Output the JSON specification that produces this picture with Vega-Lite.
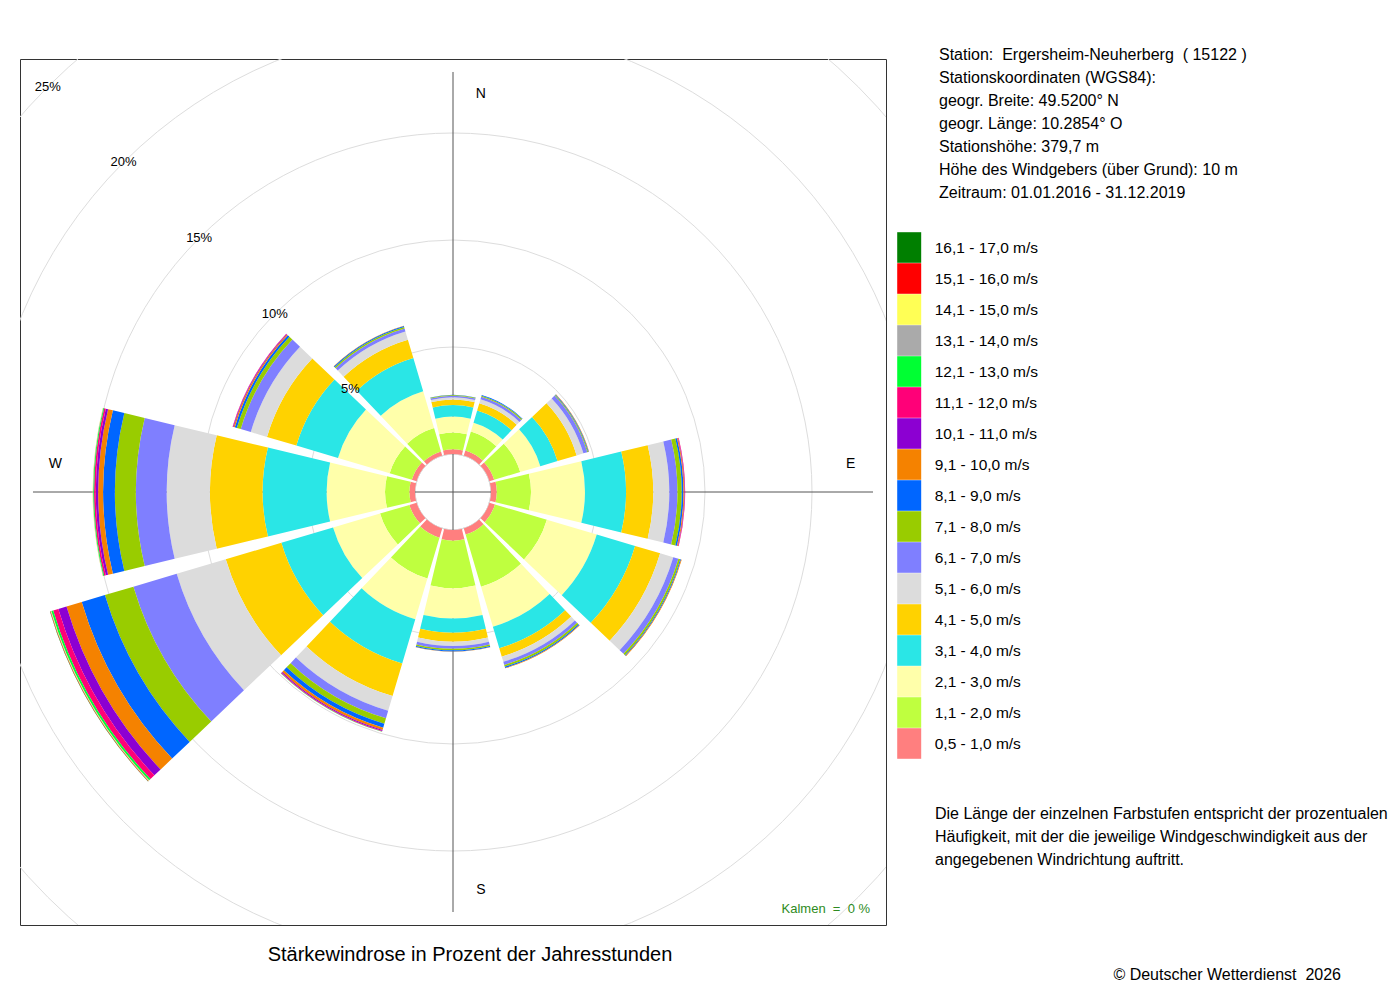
{
  "$schema": "https://vega.github.io/schema/vega-lite/v6.json",
  "description": "Staerkewindrose Ergersheim-Neuherberg, 12 Sektoren, Windgeschwindigkeitsklassen gestapelt",
  "padding": {"left": 19, "top": 47, "right": 10, "bottom": 10},
  "background": "white",
  "spacing": 10,
  "config": {"font": "Liberation Sans", "view": {"stroke": null}},
  "datasets": {
    "rose": [
      {"dir": 0, "cls": 1, "pct": 0.22}, {"dir": 0, "cls": 2, "pct": 0.78}, {"dir": 0, "cls": 3, "pct": 0.75},
      {"dir": 0, "cls": 4, "pct": 0.54}, {"dir": 0, "cls": 5, "pct": 0.26}, {"dir": 0, "cls": 6, "pct": 0.10},
      {"dir": 0, "cls": 7, "pct": 0.07}, {"dir": 0, "cls": 8, "pct": 0.03}, {"dir": 0, "cls": 9, "pct": 0.02},

      {"dir": 30, "cls": 1, "pct": 0.25}, {"dir": 30, "cls": 2, "pct": 0.92}, {"dir": 30, "cls": 3, "pct": 0.43},
      {"dir": 30, "cls": 4, "pct": 0.60}, {"dir": 30, "cls": 5, "pct": 0.35}, {"dir": 30, "cls": 6, "pct": 0.19},
      {"dir": 30, "cls": 7, "pct": 0.13}, {"dir": 30, "cls": 8, "pct": 0.05}, {"dir": 30, "cls": 9, "pct": 0.03},

      {"dir": 60, "cls": 1, "pct": 0.23}, {"dir": 60, "cls": 2, "pct": 1.27}, {"dir": 60, "cls": 3, "pct": 0.98},
      {"dir": 60, "cls": 4, "pct": 0.84}, {"dir": 60, "cls": 5, "pct": 0.93}, {"dir": 60, "cls": 6, "pct": 0.33},
      {"dir": 60, "cls": 7, "pct": 0.19}, {"dir": 60, "cls": 8, "pct": 0.04}, {"dir": 60, "cls": 9, "pct": 0.03},
      {"dir": 60, "cls": 10, "pct": 0.02},

      {"dir": 90, "cls": 1, "pct": 0.27}, {"dir": 90, "cls": 2, "pct": 1.60}, {"dir": 90, "cls": 3, "pct": 2.52},
      {"dir": 90, "cls": 4, "pct": 1.92}, {"dir": 90, "cls": 5, "pct": 1.27}, {"dir": 90, "cls": 6, "pct": 0.75},
      {"dir": 90, "cls": 7, "pct": 0.38}, {"dir": 90, "cls": 8, "pct": 0.20}, {"dir": 90, "cls": 9, "pct": 0.08},
      {"dir": 90, "cls": 10, "pct": 0.04}, {"dir": 90, "cls": 11, "pct": 0.02}, {"dir": 90, "cls": 12, "pct": 0.02},

      {"dir": 120, "cls": 1, "pct": 0.27}, {"dir": 120, "cls": 2, "pct": 2.53}, {"dir": 120, "cls": 3, "pct": 2.43},
      {"dir": 120, "cls": 4, "pct": 1.87}, {"dir": 120, "cls": 5, "pct": 1.22}, {"dir": 120, "cls": 6, "pct": 0.64},
      {"dir": 120, "cls": 7, "pct": 0.25}, {"dir": 120, "cls": 8, "pct": 0.09}, {"dir": 120, "cls": 9, "pct": 0.04},
      {"dir": 120, "cls": 10, "pct": 0.03},

      {"dir": 150, "cls": 1, "pct": 0.30}, {"dir": 150, "cls": 2, "pct": 2.54}, {"dir": 150, "cls": 3, "pct": 1.95},
      {"dir": 150, "cls": 4, "pct": 1.05}, {"dir": 150, "cls": 5, "pct": 0.41}, {"dir": 150, "cls": 6, "pct": 0.25},
      {"dir": 150, "cls": 7, "pct": 0.15}, {"dir": 150, "cls": 8, "pct": 0.09}, {"dir": 150, "cls": 9, "pct": 0.06},
      {"dir": 150, "cls": 10, "pct": 0.02},

      {"dir": 180, "cls": 1, "pct": 0.50}, {"dir": 180, "cls": 2, "pct": 2.22}, {"dir": 180, "cls": 3, "pct": 1.41},
      {"dir": 180, "cls": 4, "pct": 0.67}, {"dir": 180, "cls": 5, "pct": 0.42}, {"dir": 180, "cls": 6, "pct": 0.20},
      {"dir": 180, "cls": 7, "pct": 0.13}, {"dir": 180, "cls": 8, "pct": 0.07}, {"dir": 180, "cls": 9, "pct": 0.05},
      {"dir": 180, "cls": 10, "pct": 0.02},

      {"dir": 210, "cls": 1, "pct": 0.45}, {"dir": 210, "cls": 2, "pct": 1.99}, {"dir": 210, "cls": 3, "pct": 1.99},
      {"dir": 210, "cls": 4, "pct": 2.15}, {"dir": 210, "cls": 5, "pct": 1.59}, {"dir": 210, "cls": 6, "pct": 0.72},
      {"dir": 210, "cls": 7, "pct": 0.36}, {"dir": 210, "cls": 8, "pct": 0.27}, {"dir": 210, "cls": 9, "pct": 0.19},
      {"dir": 210, "cls": 10, "pct": 0.11}, {"dir": 210, "cls": 11, "pct": 0.05}, {"dir": 210, "cls": 12, "pct": 0.03},
      {"dir": 210, "cls": 13, "pct": 0.01},

      {"dir": 240, "cls": 1, "pct": 0.35}, {"dir": 240, "cls": 2, "pct": 1.43}, {"dir": 240, "cls": 3, "pct": 2.29},
      {"dir": 240, "cls": 4, "pct": 2.52}, {"dir": 240, "cls": 5, "pct": 2.71}, {"dir": 240, "cls": 6, "pct": 2.39},
      {"dir": 240, "cls": 7, "pct": 2.11}, {"dir": 240, "cls": 8, "pct": 1.39}, {"dir": 240, "cls": 9, "pct": 1.13},
      {"dir": 240, "cls": 10, "pct": 0.74}, {"dir": 240, "cls": 11, "pct": 0.40}, {"dir": 240, "cls": 12, "pct": 0.25},
      {"dir": 240, "cls": 13, "pct": 0.09}, {"dir": 240, "cls": 14, "pct": 0.02}, {"dir": 240, "cls": 15, "pct": 0.02},
      {"dir": 240, "cls": 16, "pct": 0.02}, {"dir": 240, "cls": 17, "pct": 0.01},

      {"dir": 270, "cls": 1, "pct": 0.26}, {"dir": 270, "cls": 2, "pct": 1.14}, {"dir": 270, "cls": 3, "pct": 2.73},
      {"dir": 270, "cls": 4, "pct": 2.99}, {"dir": 270, "cls": 5, "pct": 2.46}, {"dir": 270, "cls": 6, "pct": 2.02},
      {"dir": 270, "cls": 7, "pct": 1.44}, {"dir": 270, "cls": 8, "pct": 0.98}, {"dir": 270, "cls": 9, "pct": 0.55},
      {"dir": 270, "cls": 10, "pct": 0.23}, {"dir": 270, "cls": 11, "pct": 0.11}, {"dir": 270, "cls": 12, "pct": 0.08},
      {"dir": 270, "cls": 13, "pct": 0.04}, {"dir": 270, "cls": 14, "pct": 0.02}, {"dir": 270, "cls": 15, "pct": 0.01},

      {"dir": 300, "cls": 1, "pct": 0.23}, {"dir": 300, "cls": 2, "pct": 1.08}, {"dir": 300, "cls": 3, "pct": 2.52},
      {"dir": 300, "cls": 4, "pct": 2.03}, {"dir": 300, "cls": 5, "pct": 1.43}, {"dir": 300, "cls": 6, "pct": 0.79},
      {"dir": 300, "cls": 7, "pct": 0.49}, {"dir": 300, "cls": 8, "pct": 0.19}, {"dir": 300, "cls": 9, "pct": 0.10},
      {"dir": 300, "cls": 10, "pct": 0.06}, {"dir": 300, "cls": 11, "pct": 0.03}, {"dir": 300, "cls": 12, "pct": 0.02},

      {"dir": 330, "cls": 1, "pct": 0.20}, {"dir": 330, "cls": 2, "pct": 1.14}, {"dir": 330, "cls": 3, "pct": 1.79},
      {"dir": 330, "cls": 4, "pct": 1.62}, {"dir": 330, "cls": 5, "pct": 0.90}, {"dir": 330, "cls": 6, "pct": 0.40},
      {"dir": 330, "cls": 7, "pct": 0.14}, {"dir": 330, "cls": 8, "pct": 0.07}, {"dir": 330, "cls": 9, "pct": 0.05},
      {"dir": 330, "cls": 10, "pct": 0.02}
    ]
  },
  "hconcat": [
    {
      "width": 866,
      "height": 866,
      "view": {"stroke": "#333333", "strokeWidth": 1},
      "title": {
        "text": "Stärkewindrose in Prozent der Jahresstunden",
        "orient": "bottom",
        "offset": 20,
        "dx": 17,
        "fontSize": 20,
        "fontWeight": "normal",
        "color": "black"
      },
      "layer": [
        {
          "data": {"values": [
            {"ring": 5}, {"ring": 10}, {"ring": 15}, {"ring": 20}, {"ring": 25}
          ]},
          "mark": {"type": "arc", "filled": false, "stroke": "#dddddd", "strokeWidth": 1, "clip": true},
          "encoding": {
            "theta": {"datum": 0, "type": "quantitative", "stack": null, "scale": {"domain": [0, 360]}},
            "theta2": {"datum": 360},
            "radius": {"field": "ring", "type": "quantitative", "stack": null, "scale": {"type": "linear", "domain": [0, 25], "range": [38, 573]}}
          }
        },
        {
          "data": {"values": [{}]},
          "mark": {"type": "rule", "color": "#555555", "strokeWidth": 1},
          "encoding": {
            "x": {"datum": 0, "type": "quantitative", "scale": {"domain": [-1, 1], "nice": false}, "axis": null},
            "y": {"datum": -0.97, "type": "quantitative", "scale": {"domain": [-1, 1], "nice": false}, "axis": null},
            "y2": {"datum": 0.97}
          }
        },
        {
          "data": {"values": [{}]},
          "mark": {"type": "rule", "color": "#555555", "strokeWidth": 1},
          "encoding": {
            "y": {"datum": 0, "type": "quantitative"},
            "x": {"datum": -0.97, "type": "quantitative"},
            "x2": {"datum": 0.97}
          }
        },
        {
          "data": {"name": "rose"},
          "transform": [
            {"lookup": "cls", "from": {"data": {"values": [
              {"cls": 1, "speed": "0,5 - 1,0 m/s"}, {"cls": 2, "speed": "1,1 - 2,0 m/s"},
              {"cls": 3, "speed": "2,1 - 3,0 m/s"}, {"cls": 4, "speed": "3,1 - 4,0 m/s"},
              {"cls": 5, "speed": "4,1 - 5,0 m/s"}, {"cls": 6, "speed": "5,1 - 6,0 m/s"},
              {"cls": 7, "speed": "6,1 - 7,0 m/s"}, {"cls": 8, "speed": "7,1 - 8,0 m/s"},
              {"cls": 9, "speed": "8,1 - 9,0 m/s"}, {"cls": 10, "speed": "9,1 - 10,0 m/s"},
              {"cls": 11, "speed": "10,1 - 11,0 m/s"}, {"cls": 12, "speed": "11,1 - 12,0 m/s"},
              {"cls": 13, "speed": "12,1 - 13,0 m/s"}, {"cls": 14, "speed": "13,1 - 14,0 m/s"},
              {"cls": 15, "speed": "14,1 - 15,0 m/s"}, {"cls": 16, "speed": "15,1 - 16,0 m/s"},
              {"cls": 17, "speed": "16,1 - 17,0 m/s"}
            ]}, "key": "cls", "fields": ["speed"]}},
            {"stack": "pct", "groupby": ["dir"], "sort": [{"field": "cls", "order": "ascending"}], "as": ["r0", "r1"]},
            {"calculate": "datum.dir - 13.5", "as": "t0"},
            {"calculate": "datum.dir + 13.5", "as": "t1"}
          ],
          "mark": {"type": "arc"},
          "encoding": {
            "theta": {"field": "t0", "type": "quantitative", "stack": null},
            "theta2": {"field": "t1"},
            "radius": {"field": "r0", "type": "quantitative", "stack": null},
            "radius2": {"field": "r1"},
            "color": {
              "field": "speed",
              "type": "nominal",
              "scale": {
                "domain": [
                  "0,5 - 1,0 m/s", "1,1 - 2,0 m/s", "2,1 - 3,0 m/s", "3,1 - 4,0 m/s", "4,1 - 5,0 m/s",
                  "5,1 - 6,0 m/s", "6,1 - 7,0 m/s", "7,1 - 8,0 m/s", "8,1 - 9,0 m/s", "9,1 - 10,0 m/s",
                  "10,1 - 11,0 m/s", "11,1 - 12,0 m/s", "12,1 - 13,0 m/s", "13,1 - 14,0 m/s",
                  "14,1 - 15,0 m/s", "15,1 - 16,0 m/s", "16,1 - 17,0 m/s"
                ],
                "range": [
                  "#ff7f7f", "#bfff3f", "#ffffaa", "#2ae6e6", "#ffd200", "#dcdcdc", "#7f7fff",
                  "#99cc00", "#0066ff", "#f58200", "#8c00d2", "#ff0078", "#00ff33", "#aaaaaa",
                  "#ffff55", "#ff0000", "#007f00"
                ]
              },
              "legend": {
                "orient": "none",
                "legendX": 873.7,
                "legendY": 173,
                "title": null,
                "padding": 0,
                "values": [
                  "16,1 - 17,0 m/s", "15,1 - 16,0 m/s", "14,1 - 15,0 m/s", "13,1 - 14,0 m/s",
                  "12,1 - 13,0 m/s", "11,1 - 12,0 m/s", "10,1 - 11,0 m/s", "9,1 - 10,0 m/s",
                  "8,1 - 9,0 m/s", "7,1 - 8,0 m/s", "6,1 - 7,0 m/s", "5,1 - 6,0 m/s",
                  "4,1 - 5,0 m/s", "3,1 - 4,0 m/s", "2,1 - 3,0 m/s", "1,1 - 2,0 m/s", "0,5 - 1,0 m/s"
                ],
                "symbolType": "M-0.784,-1H0.784V1H-0.784Z",
                "symbolSize": 936,
                "symbolStrokeWidth": 0,
                "symbolOpacity": 1,
                "symbolLimit": 0,
                "rowPadding": 0,
                "labelFontSize": 15.5,
                "labelOffset": 10,
                "labelColor": "black",
                "labelFont": "Liberation Sans"
              }
            }
          }
        },
        {
          "data": {"values": [
            {"ring": 5, "label": "5%"}, {"ring": 10, "label": "10%"}, {"ring": 15, "label": "15%"},
            {"ring": 20, "label": "20%"}, {"ring": 25, "label": "25%"}
          ]},
          "mark": {"type": "text", "fontSize": 13, "align": "center", "baseline": "middle", "color": "black"},
          "encoding": {
            "theta": {"datum": 315, "type": "quantitative", "stack": null},
            "radius": {"field": "ring", "type": "quantitative"},
            "text": {"field": "label"}
          }
        },
        {
          "data": {"values": [
            {"label": "N", "ang": 4}, {"label": "E", "ang": 86},
            {"label": "S", "ang": 176}, {"label": "W", "ang": 274}
          ]},
          "mark": {"type": "text", "fontSize": 14, "align": "center", "baseline": "middle", "color": "black"},
          "encoding": {
            "theta": {"field": "ang", "type": "quantitative", "stack": null},
            "radius": {"datum": 16.85, "type": "quantitative"},
            "text": {"field": "label"}
          }
        },
        {
          "data": {"values": [{"text": "Kalmen \u00a0= \u00a00 %"}]},
          "mark": {"type": "text", "fontSize": 13, "align": "center", "baseline": "middle", "color": "#2e8b22"},
          "encoding": {
            "x": {"datum": 0.861, "type": "quantitative"},
            "y": {"datum": -0.963, "type": "quantitative"},
            "text": {"field": "text"}
          }
        }
      ]
    },
    {
      "width": 460,
      "height": 866,
      "view": {"stroke": null},
      "layer": [
        {
          "data": {"values": [
            {"line": 1, "text": "Station: \u00a0Ergersheim-Neuherberg \u00a0( 15122 )"},
            {"line": 2, "text": "Stationskoordinaten (WGS84):"},
            {"line": 3, "text": "geogr. Breite: 49.5200° N"},
            {"line": 4, "text": "geogr. Länge: 10.2854° O"},
            {"line": 5, "text": "Stationshöhe: 379,7 m"},
            {"line": 6, "text": "Höhe des Windgebers (über Grund): 10 m"},
            {"line": 7, "text": "Zeitraum: 01.01.2016 - 31.12.2019"}
          ]},
          "mark": {"type": "text", "align": "left", "baseline": "middle", "fontSize": 16, "color": "black"},
          "encoding": {
            "x": {"datum": 42, "type": "quantitative", "scale": {"domain": [0, 460], "nice": false, "zero": false}, "axis": null},
            "y": {"field": "line", "type": "quantitative", "scale": {"domain": [1, 41], "range": [-4, 916], "nice": false, "zero": false}, "axis": null},
            "text": {"field": "text"}
          }
        },
        {
          "data": {"values": [
            {"line": 34, "text": "Die Länge der einzelnen Farbstufen entspricht der prozentualen"},
            {"line": 35, "text": "Häufigkeit, mit der die jeweilige Windgeschwindigkeit aus der"},
            {"line": 36, "text": "angegebenen Windrichtung auftritt."}
          ]},
          "mark": {"type": "text", "align": "left", "baseline": "middle", "fontSize": 16, "color": "black"},
          "encoding": {
            "x": {"datum": 38, "type": "quantitative"},
            "y": {"field": "line", "type": "quantitative"},
            "text": {"field": "text"}
          }
        },
        {
          "data": {"values": [{"line": 41, "text": "© Deutscher Wetterdienst \u00a02026"}]},
          "mark": {"type": "text", "align": "right", "baseline": "middle", "fontSize": 16, "color": "black"},
          "encoding": {
            "x": {"datum": 444, "type": "quantitative"},
            "y": {"field": "line", "type": "quantitative"},
            "text": {"field": "text"}
          }
        }
      ]
    }
  ]
}
